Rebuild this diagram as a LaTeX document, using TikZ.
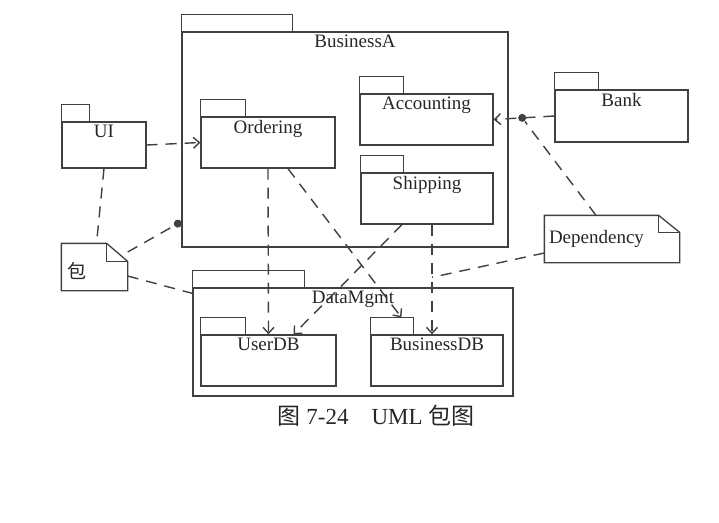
\documentclass[tikz,border=0pt]{standalone}
\usepackage{fontspec}
\setmainfont{Liberation Serif}
\newfontfamily\cjk{Noto Sans CJK SC}
\usetikzlibrary{arrows.meta,positioning}

\begin{document}
\begin{tikzpicture}[x=1pt,y=-1pt,line width=1.3pt,black!75,text=black!85,font=\fontsize{19}{22}\selectfont,
	pkg/.style={draw,rectangle,inner sep=0pt,minimum height=51pt},
	note/.style={rectangle,inner sep=0pt,minimum height=46pt},
	dot/.style={circle,fill=black!75,inner sep=0pt,minimum size=8pt},
	dep/.style={line width=1.4pt,dash pattern=on 11pt off 8pt},
	to/.style={dep,-{Straight Barb[length=6pt,width=11pt]}},
	every label/.style={inner sep=3pt}]
	\useasboundingbox (0,0) rectangle (719,522);
	\node[pkg,minimum width=326pt,minimum height=215pt,label={[anchor=north,xshift=10pt]north:BusinessA}] (biz) at (345,139.5) {};
	\node[pkg,minimum width=134pt,label={[anchor=north]north:Ordering}] (ord) at (268,142.5) {};
	\node[pkg,minimum width=133pt,label={[anchor=north]north:Accounting}] (acc) at (426.5,119.5) {};
	\node[pkg,minimum width=132pt,label={[anchor=north]north:Shipping}] (shp) at (427,198.5) {};
	\node[pkg,minimum width=84pt,minimum height=46pt,label={[anchor=north]north:UI}] (ui) at (104,145) {};
	\node[pkg,minimum width=133pt,minimum height=52pt,label={[anchor=north]north:Bank}] (bank) at (621.5,116) {};
	\node[pkg,minimum width=320pt,minimum height=108pt,label={[anchor=north]north:DataMgmt}] (dm) at (353,342) {};
	\node[pkg,minimum width=135pt,label={[anchor=north]north:UserDB}] (udb) at (268.5,360.5) {};
	\node[pkg,minimum width=132pt,label={[anchor=north]north:BusinessDB}] (bdb) at (437,360.5) {};
	\foreach \n/\w in {biz/111,ord/45,acc/44,shp/43,ui/28,bank/44,dm/112,udb/45,bdb/43}
		\draw (\n.north west) rectangle ++(\w,-17);

	\node[note,minimum width=65pt,label={[anchor=west,inner sep=5pt,yshift=-4pt]west:{\cjk 包}}] (n1) at (94.5,267) {};
	\node[note,minimum width=134pt,label={[anchor=west,inner sep=4pt]west:Dependency}] (n2) at (612,239) {};
	\foreach \n/\fx/\fy in {n1/21/18,n2/21/17} {
		\draw (\n.north west) -- ([xshift=-\fx pt]\n.north east) -- ([yshift=-\fy pt]\n.north east) -- (\n.south east) -- (\n.south west) -- cycle;
		\draw ([xshift=-\fx pt]\n.north east) |- ([yshift=-\fy pt]\n.north east);
	}

	\draw[to] (ui.east) -- (ord.west);
	\draw[to] (bank.west) -- node[dot,pos=0.53] (j1) {} (acc.east);
	\draw[to] (ord.south) -- (udb.north);
	\draw[to] ([xshift=20pt]ord.south) -- ([xshift=31pt,yshift=17pt]bdb.north west);
	\draw[to] ([xshift=-25pt]shp.south) -- ([xshift=25pt]udb.north);
	\draw[to] ([xshift=5pt]shp.south) -- coordinate[pos=0.48] (j2) ([xshift=-5pt]bdb.north);
	\draw[dep] (ui.south) -- ([xshift=2pt]n1.north);
	\draw[dep,-{Circle[length=8pt]}] ([yshift=15pt]n1.east) -- ([yshift=26pt]biz.south west);
	\draw[dep] ([yshift=-9pt]n1.east) -- ([yshift=-6pt]dm.north west);
	\draw[dep] ([xshift=-16pt]n2.north) -- (j1);
	\draw[dep] ([yshift=-14pt]n2.west) -- (j2);

	\node[font=\fontsize{23}{27}\selectfont] (cap) at (376,416) {{\cjk 图} 7-24\quad UML {\cjk 包图}};
\end{tikzpicture}
\end{document}
